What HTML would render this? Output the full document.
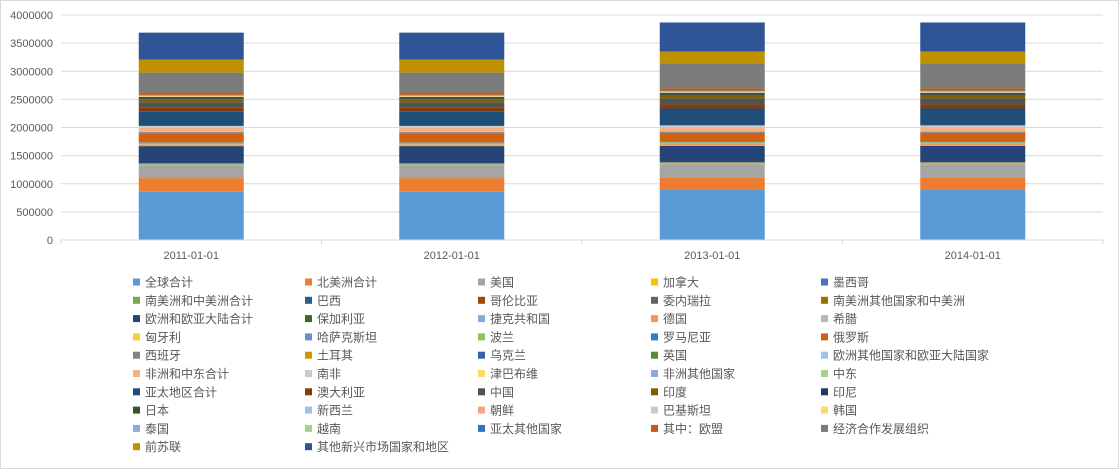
<!DOCTYPE html>
<html><head><meta charset="utf-8">
<style>
body{margin:0;background:#fff;}
svg{display:block;font-family:"Liberation Sans","Noto Sans CJK SC",sans-serif;}
</style></head>
<body>
<svg id="chart" width="1119" height="469" viewBox="0 0 1119 469" xmlns="http://www.w3.org/2000/svg">
<rect x="0.5" y="0.5" width="1118" height="468" fill="#fff" stroke="#d9d9d9"/>
<g id="grid"></g><g id="bars"></g><g id="axes"></g><g id="legend"></g>
</svg>
<script>
const categories = ["2011-01-01","2012-01-01","2013-01-01","2014-01-01"];
const seriesNames = ["全球合计","北美洲合计","美国","加拿大","墨西哥","南美洲和中美洲合计","巴西","哥伦比亚","委内瑞拉","南美洲其他国家和中美洲","欧洲和欧亚大陆合计","保加利亚","捷克共和国","德国","希腊","匈牙利","哈萨克斯坦","波兰","罗马尼亚","俄罗斯","西班牙","土耳其","乌克兰","英国","欧洲其他国家和欧亚大陆国家","非洲和中东合计","南非","津巴布维","非洲其他国家","中东","亚太地区合计","澳大利亚","中国","印度","印尼","日本","新西兰","朝鲜","巴基斯坦","韩国","泰国","越南","亚太其他国家","其中：欧盟","经济合作发展组织","前苏联","其他新兴市场国家和地区"];
const seriesColors = ["#5b9bd5","#ed7d31","#a5a5a5","#ffc000","#4472c4","#70ad47","#255e91","#9e480e","#636363","#997300","#264478","#43682b","#7cafdd","#f1975a","#b7b7b7","#ffcd33","#698ed0","#8cc168","#327dc2","#d26012","#848484","#cc9a00","#3a5dae","#5a8a39","#9dc3e6","#f4b183","#c9c9c9","#ffd966","#8faadc","#a9d18e","#1f4e79","#843c0c","#525252","#7f6000","#203864","#375623","#9dc3e6","#f4a582","#c9c9c9","#ffd966","#8faadc","#a9d18e","#2e75b6","#c55a11","#7b7b7b","#bf9000","#2f5597"];
// values per series in thousands, for each category
const values2011 = [858,243,230,8,6,10,5,4,1,2,300,5,8,20,5,3,8,13,6,165,4,4,10,5,8,60,30,1,3,4,250,70,100,55,10,30,2,3,2,10,5,5,10,40,355,230,480];
const values2012 = [858,243,230,8,6,10,5,4,1,2,300,5,8,20,5,3,8,13,6,165,4,4,10,5,8,60,30,1,3,4,250,70,100,55,10,30,2,3,2,10,5,5,10,40,355,230,480];
const values2013 = [889,225,235,8,6,12,5,4,1,2,284,5,8,25,5,3,8,13,6,160,4,4,10,5,8,65,30,1,3,4,300,70,110,60,10,30,2,3,2,10,5,5,10,40,444,213,515];
const values2014 = [889,225,235,8,6,12,5,4,1,2,284,5,8,25,5,3,8,13,6,160,4,4,10,5,8,65,30,1,3,4,300,70,110,60,10,30,2,3,2,10,5,5,10,40,444,213,515];
const yTicks = [0,500000,1000000,1500000,2000000,2500000,3000000,3500000,4000000];
const allValues = [values2011,values2012,values2013,values2014];

const NS="http://www.w3.org/2000/svg";
const plotL=61, plotR=1103, plotT=15, plotB=240, yMax=4000000;
const y = v => plotB - v/yMax*(plotB-plotT);
const band = (plotR-plotL)/categories.length;
const xc = i => plotL + band*(i+0.5);
const barW = 105;
function mk(tag, attrs, parent){const e=document.createElementNS(NS,tag);for(const k in attrs)e.setAttribute(k,attrs[k]);parent.appendChild(e);return e;}
const grid=document.getElementById('grid'), bars=document.getElementById('bars'), axes=document.getElementById('axes'), legend=document.getElementById('legend');

yTicks.forEach(t=>{
  const l=mk('line',{x1:plotL,x2:plotR,y1:y(t),y2:y(t),stroke:'#d9d9d9','stroke-width':1},grid);
  
  
  const tx=mk('text',{x:53,y:y(t)+4,'text-anchor':'end','font-size':11,fill:'#595959'},axes);
  tx.textContent=String(t);
  
  
});
const ax=mk('line',{x1:plotL,x2:plotR,y1:plotB,y2:plotB,stroke:'#d9d9d9'},axes);


for(let i=0;i<=categories.length;i++){
  const tk=mk('line',{x1:plotL+band*i,x2:plotL+band*i,y1:plotB,y2:plotB+4,stroke:'#d9d9d9'},axes);
  
  
}
categories.forEach((c,i)=>{
  const tx=mk('text',{x:xc(i),y:259,'text-anchor':'middle','font-size':11,fill:'#595959'},axes);
  tx.textContent=c;
  
  
  let cum=0;
  allValues[i].forEach((v,s)=>{
    const val=v*1000;
    const r=mk('rect',{x:xc(i)-barW/2,y:y(cum+val),width:barW,height:y(cum)-y(cum+val),fill:seriesColors[s]},bars);
    
    
    cum+=val;
  });
});
const colX=[133,305,478,651,821];
seriesNames.forEach((n,i)=>{
  const col=i%5,row=Math.floor(i/5);
  const yy=282+row*18.3;
  const g=mk('g',{},legend);
  
  
  mk('rect',{x:colX[col],y:yy-3.5,width:7,height:7,fill:seriesColors[i]},g);
  const t=mk('text',{x:colX[col]+12,y:yy+4.5,'font-size':12,fill:'#595959'},g);
  t.textContent=n;
});
</script>
</body></html>
